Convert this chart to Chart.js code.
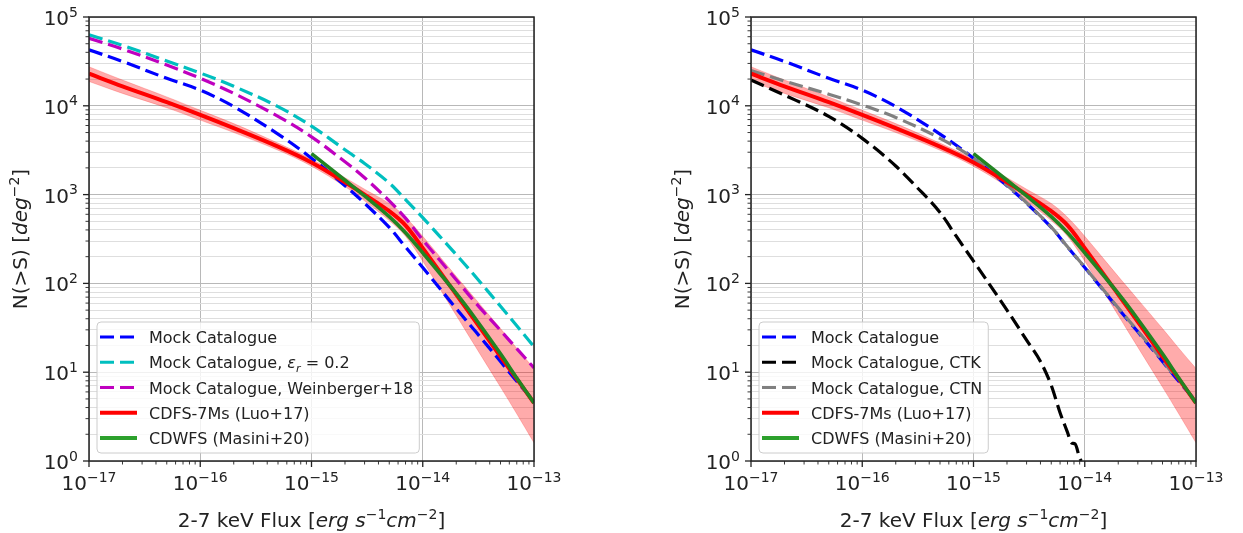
<!DOCTYPE html>
<html>
<head>
<meta charset="utf-8">
<title>N(&gt;S) source counts, 2-7 keV</title>
<script src="https://cdn.jsdelivr.net/npm/chart.js@4.4.1/dist/chart.umd.min.js"></script>
<style>
  html, body { margin: 0; padding: 0; background: #fff; overflow: hidden; }
  #wrap { position: relative; width: 1243px; height: 533px; }
  canvas { position: absolute; top: 0; }
  #left { left: 0; }
  #right { left: 662px; }
</style>
</head>
<body>
<div id="wrap">
  <canvas id="left" width="581" height="533"></canvas>
  <canvas id="right" width="581" height="533"></canvas>
</div>
<script>
// flux grid (erg s^-1 cm^-2) shared by most curves
const fluxGrid = [1e-17, 2e-17, 5e-17, 1e-16, 2e-16, 5e-16, 1e-15, 2e-15, 3e-15, 5e-15, 7e-15, 1e-14, 2e-14, 3e-14, 5e-14, 7e-14, 1e-13];

// mock catalogue counts N(>S), deg^-2
const mockAll = [42700, 31600, 20400, 15000, 9800, 4800, 2570, 1260, 800, 427, 257, 151, 52, 28.5, 13.2, 7.9, 4.7];
const mockEr02 = [63000, 48000, 32000, 23400, 16600, 9800, 5900, 3200, 2240, 1350, 880, 550, 211, 118, 55.3, 33.4, 19.4];
const mockW18 = [57500, 43600, 28800, 20400, 13800, 7600, 4470, 2340, 1550, 850, 543, 309, 110, 60, 29.5, 18.4, 11.2];

// CDFS-7Ms (Luo+17) with its uncertainty band
const cdfsLuo = [23000, 16600, 11000, 7900, 5600, 3470, 2300, 1380, 1000, 650, 450, 250, 75, 37, 15, 8.4, 4.5];
const cdfsHigh = [27500, 19500, 12600, 8900, 6300, 3800, 2500, 1550, 1150, 794, 556, 339, 120, 66, 31, 18.6, 11];
const cdfsLow = [18800, 13800, 9500, 6900, 5000, 3160, 2090, 1230, 850, 510, 340, 178, 43.6, 19.1, 6.8, 3.4, 1.6];

// CDWFS (Masini+20)
const masiniFlux = [1e-15, 2e-15, 3e-15, 5e-15, 7e-15, 1e-14, 2e-14, 3e-14, 5e-14, 7e-14, 1e-13];
const masini = [2900, 1450, 966, 565, 372, 221, 77, 39.5, 16.1, 8.6, 4.5];

// Compton-thick / Compton-thin split of the mock
const ctkFlux = [1e-17, 2e-17, 5e-17, 1e-16, 2e-16, 3e-16, 5e-16, 7e-16, 1e-15, 1.5e-15, 2e-15, 3e-15, 4e-15, 5e-15, 6e-15, 7e-15, 7.6e-15, 8.2e-15, 9e-15, 9.3e-15];
const mockCTK = [19500, 13200, 7600, 4300, 2100, 1260, 630, 340, 178, 85, 50, 23, 13.2, 7.1, 3.5, 2.1, 1.6, 1.55, 1.08, 1.0];
const ctnFlux = [1e-17, 2e-17, 5e-17, 1e-16, 2e-16, 5e-16, 1e-15, 2e-15, 3e-15, 5e-15, 7e-15, 1e-14, 2e-14, 3e-14, 5e-14, 6.6e-14];
const mockCTN = [25000, 19000, 13500, 10200, 7400, 4300, 2570, 1270, 810, 430, 258, 152, 53, 29, 13.5, 8.6];

// axis decades
const xDecades = [-17, -16, -15, -14, -13];
const yDecades = [0, 1, 2, 3, 4, 5];

const FONT = "'DejaVu Sans', sans-serif";
const DASH = [14, 6];
const TICK_SIZE = 20;
const LEGEND_SIZE = 16;

const pts = (xs, ys) => xs.map((x, i) => ({ x: x, y: ys[i] }));

function logTicks(decades) {
    let out = [];
    for (let i = 0; i < decades.length; i++) {
        let base = Math.pow(10, decades[i]);
        out.push({ value: base, major: true });
        if (i < decades.length - 1) {
            for (let m = 2; m <= 9; m++) out.push({ value: m * base, major: false });
        }
    }
    return out;
}

function dashed(label, xs, ys, color) {
    return { label: label, data: pts(xs, ys), borderColor: color, borderWidth: 3.2,
             borderDash: DASH, borderCapStyle: 'butt', fill: false, order: 3 };
}

function luoLine() {
    return { label: 'CDFS-7Ms (Luo+17)', data: pts(fluxGrid, cdfsLuo), borderColor: '#ff0000',
             borderWidth: 4, fill: false, order: 2 };
}

function masiniLine() {
    return { label: 'CDWFS (Masini+20)', data: pts(masiniFlux, masini), borderColor: 'rgb(34,132,34)',
             borderWidth: 3.6, fill: false, order: 1 };
}

function luoBand() {
    return [
        { label: 'band high', data: pts(fluxGrid, cdfsHigh), borderColor: 'rgba(255,0,0,0.2)',
          borderWidth: 1, backgroundColor: 'rgba(255,0,0,0.33)', fill: '+1', order: 10 },
        { label: 'band low', data: pts(fluxGrid, cdfsLow), borderColor: 'rgba(255,0,0,0.2)',
          borderWidth: 1, fill: false, order: 10 }
    ];
}

// legend entries per panel
const legendRows = {
    left: [
        { text: [{ t: 'Mock Catalogue' }], color: '#0000ff', dash: true },
        { text: [{ t: 'Mock Catalogue, ' }, { t: 'ε', it: true }, { t: 'r', it: true, sub: true }, { t: ' = 0.2' }], color: '#00bfbf', dash: true },
        { text: [{ t: 'Mock Catalogue, Weinberger+18' }], color: '#bf00bf', dash: true },
        { text: [{ t: 'CDFS-7Ms (Luo+17)' }], color: '#ff0000', dash: false },
        { text: [{ t: 'CDWFS (Masini+20)' }], color: 'rgb(44,160,44)', dash: false }
    ],
    right: [
        { text: [{ t: 'Mock Catalogue' }], color: '#0000ff', dash: true },
        { text: [{ t: 'Mock Catalogue, CTK' }], color: '#000000', dash: true },
        { text: [{ t: 'Mock Catalogue, CTN' }], color: '#808080', dash: true },
        { text: [{ t: 'CDFS-7Ms (Luo+17)' }], color: '#ff0000', dash: false },
        { text: [{ t: 'CDWFS (Masini+20)' }], color: 'rgb(44,160,44)', dash: false }
    ]
};

// mixed normal / italic / super / subscript text on one baseline
function richParts(ctx, segs, size) {
    return segs.map(s => {
        let fs = (s.sup || s.sub) ? size * 0.7 : size;
        let font = (s.it ? 'italic ' : '') + fs + 'px ' + FONT;
        ctx.font = font;
        return { t: s.t, font: font, w: ctx.measureText(s.t).width,
                 dy: s.sup ? -size * 0.42 : (s.sub ? size * 0.22 : 0) };
    });
}

function drawRich(ctx, segs, x, y, size, align) {
    let parts = richParts(ctx, segs, size);
    let total = parts.reduce((s, p) => s + p.w, 0);
    let cx = x;
    if (align === 'center') cx = x - total / 2;
    else if (align === 'right') cx = x - total;
    ctx.textAlign = 'left';
    ctx.textBaseline = 'alphabetic';
    parts.forEach(p => {
        ctx.font = p.font;
        ctx.fillText(p.t, cx, y + p.dy);
        cx += p.w;
    });
    return total;
}

function expText(v) {
    let e = Math.round(Math.log10(v));
    return [{ t: '10' }, { t: String(e).replace('-', '\u2212'), sup: true }];
}

const decor = {
    id: 'decor',
    afterDraw(chart) {
        let ctx = chart.ctx;
        let a = chart.chartArea;
        let xs = chart.scales.x, ys = chart.scales.y;
        ctx.save();

        // frame
        ctx.strokeStyle = '#222';
        ctx.lineWidth = 1.5;
        ctx.strokeRect(a.left, a.top, a.right - a.left, a.bottom - a.top);

        // tick marks
        xs.ticks.forEach(t => {
            let px = xs.getPixelForValue(t.value);
            ctx.lineWidth = t.major ? 1.3 : 0.9;
            ctx.beginPath();
            ctx.moveTo(px, a.bottom);
            ctx.lineTo(px, a.bottom + (t.major ? 6 : 3.5));
            ctx.stroke();
        });
        ys.ticks.forEach(t => {
            let py = ys.getPixelForValue(t.value);
            ctx.lineWidth = t.major ? 1.3 : 0.9;
            ctx.beginPath();
            ctx.moveTo(a.left, py);
            ctx.lineTo(a.left - (t.major ? 6 : 3.5), py);
            ctx.stroke();
        });

        // tick labels
        ctx.fillStyle = '#222';
        xs.ticks.filter(t => t.major).forEach(t => {
            drawRich(ctx, expText(t.value), xs.getPixelForValue(t.value), a.bottom + 29, TICK_SIZE, 'center');
        });
        ys.ticks.filter(t => t.major).forEach(t => {
            drawRich(ctx, expText(t.value), a.left - 11, ys.getPixelForValue(t.value) + 8, TICK_SIZE, 'right');
        });

        // axis titles
        drawRich(ctx, [{ t: '2-7 keV Flux [' }, { t: 'erg', it: true }, { t: ' ' }, { t: 's', it: true },
                       { t: '\u22121', sup: true }, { t: 'cm', it: true }, { t: '\u22122', sup: true }, { t: ']' }],
                 (a.left + a.right) / 2, 527, 20, 'center');
        ctx.save();
        ctx.translate(a.left - 62, (a.top + a.bottom) / 2);
        ctx.rotate(-Math.PI / 2);
        drawRich(ctx, [{ t: 'N(>S) [' }, { t: 'deg', it: true }, { t: '\u22122', sup: true }, { t: ']' }], 0, 0, 20, 'center');
        ctx.restore();

        // legend
        let rows = legendRows[chart.canvas.id];
        let bx = a.left + 8, by = 322, bh = 131;
        let maxW = 0;
        rows.forEach(r => {
            let w = richParts(ctx, r.text, LEGEND_SIZE).reduce((s, p) => s + p.w, 0);
            maxW = Math.max(maxW, w);
        });
        let bw = 52 + maxW + 6;
        ctx.beginPath();
        ctx.roundRect(bx, by, bw, bh, 4);
        ctx.fillStyle = 'rgba(255,255,255,0.8)';
        ctx.fill();
        ctx.strokeStyle = '#cccccc';
        ctx.lineWidth = 1;
        ctx.stroke();
        rows.forEach((r, i) => {
            let ry = 337 + i * 25.25;
            ctx.strokeStyle = r.color;
            ctx.lineWidth = r.dash ? 3.2 : 4;
            ctx.setLineDash(r.dash ? DASH : []);
            ctx.lineCap = 'butt';
            ctx.beginPath();
            ctx.moveTo(bx + 3, ry);
            ctx.lineTo(bx + 40, ry);
            ctx.stroke();
            ctx.setLineDash([]);
            ctx.fillStyle = '#222';
            drawRich(ctx, r.text, bx + 52, ry + 6, LEGEND_SIZE, 'left');
        });

        ctx.restore();
    }
};

function makeChart(id, datasets) {
    return new Chart(document.getElementById(id), {
        type: 'line',
        data: { datasets: datasets },
        options: {
            responsive: false,
            animation: false,
            layout: { padding: { top: 17, right: 47, left: 0, bottom: 0 } },
            elements: {
                point: { radius: 0, hoverRadius: 0 },
                line: { tension: 0.35 }
            },
            plugins: { legend: { display: false }, tooltip: { enabled: false } },
            scales: {
                x: {
                    type: 'logarithmic', min: 1e-17, max: 1e-13,
                    afterBuildTicks: s => { s.ticks = logTicks(xDecades); },
                    afterFit: s => { s.height = 72; },
                    ticks: { display: false, autoSkip: false },
                    grid: { color: c => (c.tick && c.tick.major) ? '#b8b8b8' : 'rgba(0,0,0,0)', lineWidth: 1, drawTicks: false },
                    border: { display: false }
                },
                y: {
                    type: 'logarithmic', min: 1, max: 1e5,
                    afterBuildTicks: s => { s.ticks = logTicks(yDecades); },
                    afterFit: s => { s.width = 89; },
                    ticks: { display: false, autoSkip: false },
                    grid: { color: c => (c.tick && c.tick.major) ? '#b8b8b8' : '#dedede', lineWidth: 1, drawTicks: false },
                    border: { display: false }
                }
            }
        },
        plugins: [decor]
    });
}

// left: mock variants against the deep-field counts
makeChart('left', [
    masiniLine(),
    luoLine(),
    dashed('Mock Catalogue, Weinberger+18', fluxGrid, mockW18, '#bf00bf'),
    dashed('Mock Catalogue, er=0.2', fluxGrid, mockEr02, '#00bfbf'),
    dashed('Mock Catalogue', fluxGrid, mockAll, '#0000ff'),
    ...luoBand()
]);

// right: CTK / CTN split; the CTK tail steps down, so keep it monotone
let ctk = dashed('Mock Catalogue, CTK', ctkFlux, mockCTK, '#000000');
ctk.cubicInterpolationMode = 'monotone';
makeChart('right', [
    masiniLine(),
    luoLine(),
    dashed('Mock Catalogue, CTN', ctnFlux, mockCTN, '#808080'),
    ctk,
    dashed('Mock Catalogue', fluxGrid, mockAll, '#0000ff'),
    ...luoBand()
]);
</script>
</body>
</html>
